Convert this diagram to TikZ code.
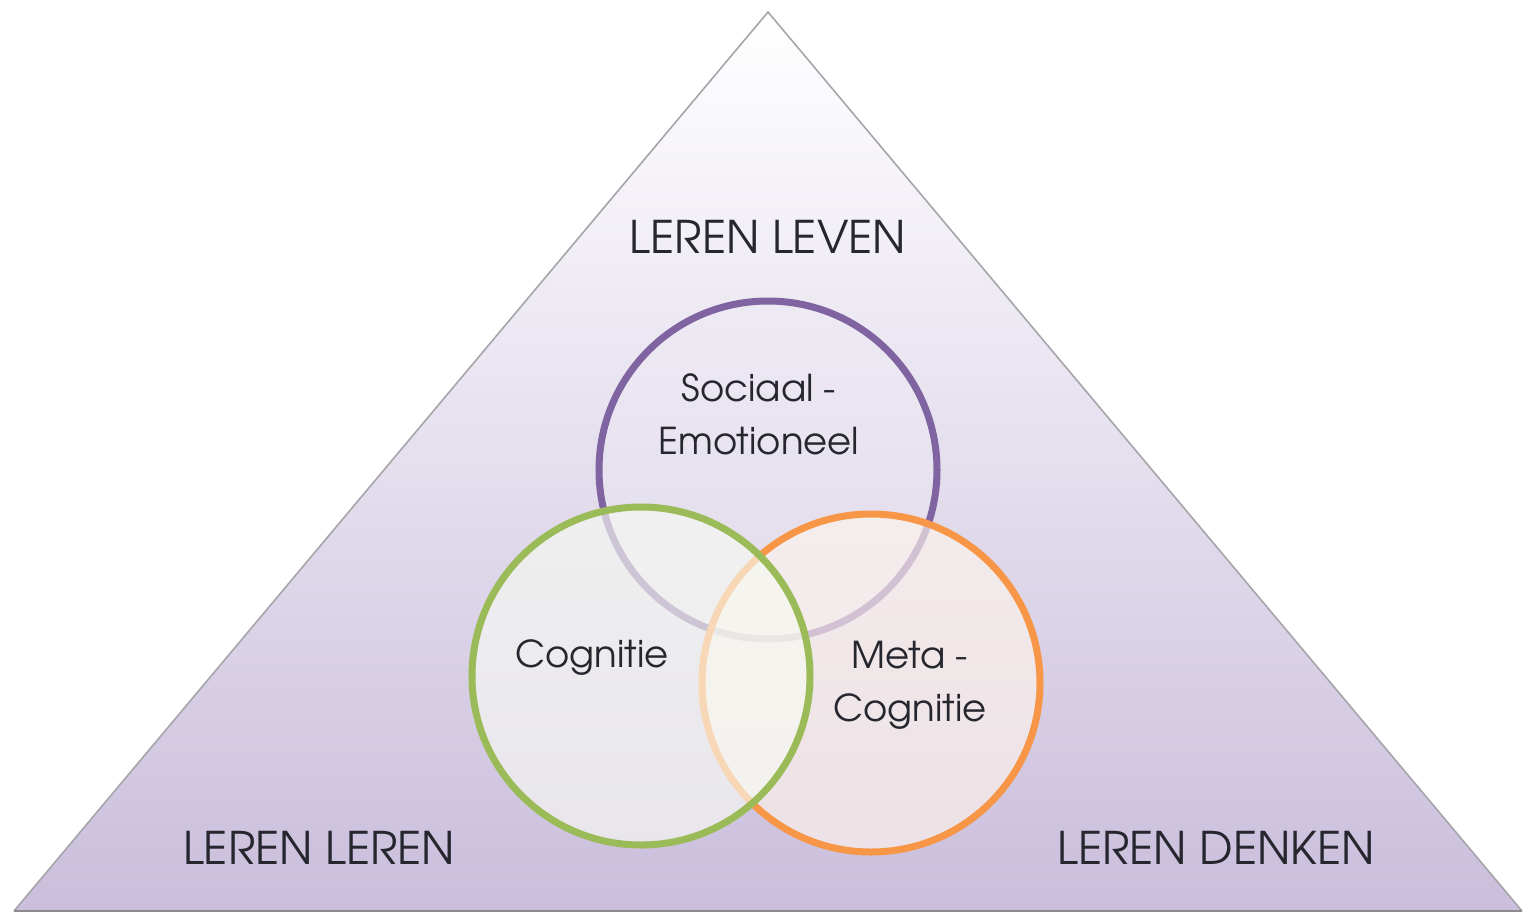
\documentclass[tikz,border=0pt]{standalone}
\usepackage{fontspec}
\setmainfont{texgyreadventor-regular.otf}
\usetikzlibrary{shadings}
\definecolor{txt}{RGB}{38,38,46}
\definecolor{cpurple}{RGB}{128,100,162}
\definecolor{cgreen}{RGB}{155,187,89}
\definecolor{corange}{RGB}{247,150,70}
\definecolor{lav}{RGB}{202,190,220}
\definecolor{edge}{RGB}{165,165,170}
\tikzset{
  ring/.style={circle, minimum size=338pt, line width=7pt, inner sep=0pt},
  big/.style={text=txt, font=\fontsize{45}{47}\selectfont, inner sep=0pt},
  small/.style={text=txt, font=\fontsize{37}{53}\selectfont, align=center, inner sep=0pt},
}
\begin{document}
\begin{tikzpicture}[x=1pt,y=-1pt]
\useasboundingbox (0,0) rectangle (1532,914);
\fill[white] (0,0) rectangle (1532,914);
% triangle
\coordinate (apex) at (768,12);
\coordinate (bl) at (14,911);
\coordinate (br) at (1522,911);
\shade[top color=white, bottom color=lav, shading angle=0] (apex) -- (br) -- (bl) -- cycle;
\draw[edge, line width=1.6pt, line join=miter] (bl) -- (apex) -- (br);
\draw[black!45, line width=2.5pt] (bl) -- (br);
% circles
\node[ring, draw=cpurple, fill=cpurple!12!white, fill opacity=0.35, draw opacity=1] (soc) at (768,470) {};
\node[ring, draw=corange, fill=corange!10!white, fill opacity=0.65] (meta) at (871,683) {};
\node[ring, draw=cgreen, fill=cgreen!8!white, fill opacity=0.65] (cog) at (641,676) {};
% labels
\node[big] (leven) at (768,237) {LEREN LEVEN};
\node[big] (leren) at (319,848) {LEREN LEREN};
\node[big] (denken) at (1216,848) {LEREN DENKEN};
\node[small] (tsoc) at (759,414) {Sociaal -\\Emotioneel};
\node[small] (tcog) at (592,658) {Cognitie};
\node[small] (tmeta) at (910,685) {Meta -\\Cognitie};
\end{tikzpicture}
\end{document}
